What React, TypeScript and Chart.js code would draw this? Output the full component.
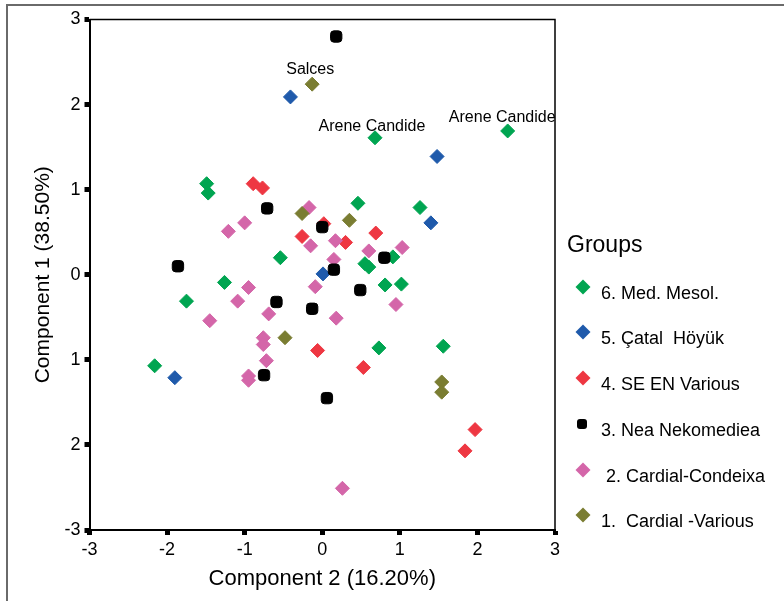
import React, { useEffect, useRef } from 'react';
import { Chart, registerables } from 'chart.js';

Chart.register(...registerables);

const FONT = '"Liberation Sans", Arial, sans-serif';

// Group names (legend order, top to bottom)
const groupNames = ['6. Med. Mesol.', '5. Çatal  Höyük', '4. SE EN Various', '3. Nea Nekomediea', ' 2. Cardial-Condeixa', '1.  Cardial -Various'];
const groupColors = ['#00a551', '#1f5aab', '#ee3742', '#000000', '#d466a9', '#7a7d32'];

// 6. Med. Mesol.
const medMesolX = [2.39, 0.68, -1.49, -1.47, 0.46, 1.26, -0.54, -1.26, -1.75, -2.16, 0.55, 0.6, 0.91, 0.81, 1.02, 0.73, 1.56];
const medMesolY = [1.69, 1.61, 1.07, 0.96, 0.84, 0.79, 0.2, -0.09, -0.31, -1.07, 0.13, 0.09, 0.21, -0.12, -0.11, -0.86, -0.84];
// 5. Çatal Höyük
const catalX = [-0.41, 1.48, 1.4, 0.01, -1.9];
const catalY = [2.09, 1.39, 0.61, 0.01, -1.21];
// 4. SE EN Various
const seenX = [-0.89, -0.77, -0.26, 0.02, 0.3, 0.69, -0.06, 0.53, 1.97, 1.84];
const seenY = [1.07, 1.02, 0.45, 0.6, 0.38, 0.49, -0.89, -1.09, -1.82, -2.07];
// 3. Nea Nekomediea
const neaX = [0.18, -0.71, 0.0, -1.86, 0.15, 0.8, 0.49, -0.59, -0.13, -0.75, 0.06];
const neaY = [2.8, 0.78, 0.56, 0.1, 0.06, 0.2, -0.18, -0.32, -0.4, -1.18, -1.45];
// 2. Cardial-Condeixa
const condeixaX = [-0.17, -1.0, -1.21, -0.15, 0.17, 0.6, 1.03, 0.15, -0.09, -0.95, -1.09, -1.45, -0.69, 0.18, -0.76, -0.76, -0.72, -0.95, -0.95, 0.26, 0.95];
const condeixaY = [0.79, 0.61, 0.51, 0.34, 0.4, 0.28, 0.32, 0.18, -0.14, -0.15, -0.31, -0.54, -0.46, -0.51, -0.74, -0.82, -1.01, -1.19, -1.24, -2.51, -0.35];
// 1. Cardial -Various
const variousX = [-0.13, -0.26, 0.35, -0.48, 1.54, 1.54];
const variousY = [2.24, 0.72, 0.64, -0.74, -1.26, -1.38];

// Point annotations
const noteTexts = ['Salces', 'Arene Candide', 'Arene Candide'];
const noteX = [-0.155, 0.64, 2.32];
const noteY = [2.41, 1.74, 1.85];

// Y tick labels for values -3..3 (as printed in the original)
const yTickValues = [-3, -2, -1, 0, 1, 2, 3];
const yTickLabels = ['-3', '2', '1', '0', '1', '2', '3'];

const xs = [medMesolX, catalX, seenX, neaX, condeixaX, variousX];
const ys = [medMesolY, catalY, seenY, neaY, condeixaY, variousY];
const drawOrder = [6, 5, 4, 1, 3, 2];

const framePlugin = {
  id: 'framePlugin',
  beforeDraw(chart: any) {
    const ctx = chart.ctx;
    ctx.save();
    ctx.fillStyle = '#fff';
    ctx.fillRect(0, 0, chart.width, chart.height);
    ctx.strokeStyle = '#6a6a6a';
    ctx.lineWidth = 2;
    ctx.beginPath();
    ctx.moveTo(7, chart.height);
    ctx.lineTo(7, 5);
    ctx.lineTo(chart.width, 5);
    ctx.stroke();
    ctx.restore();
  },
  afterDatasetsDraw(chart: any) {
    const ctx = chart.ctx;
    const a = chart.chartArea;
    ctx.save();
    ctx.strokeStyle = '#000';
    ctx.lineWidth = 1.5;
    ctx.beginPath();
    ctx.moveTo(a.left, a.top);
    ctx.lineTo(a.right, a.top);
    ctx.lineTo(a.right, a.bottom);
    ctx.stroke();
    // annotations
    ctx.fillStyle = '#000';
    ctx.font = '16px ' + FONT;
    ctx.textAlign = 'center';
    ctx.textBaseline = 'middle';
    const sx = chart.scales.x;
    const sy = chart.scales.y;
    noteTexts.forEach((t, i) => {
      ctx.fillText(t, sx.getPixelForValue(noteX[i]), sy.getPixelForValue(noteY[i]));
    });
    ctx.restore();
  },
  afterDraw(chart: any) {
    const ctx = chart.ctx;
    ctx.save();
    ctx.fillStyle = '#000';
    ctx.textAlign = 'left';
    ctx.textBaseline = 'middle';
    ctx.font = '23px ' + FONT;
    ctx.fillText('Groups', 567, 246);
    const markerY = [287, 332, 378, 424, 470, 515];
    ctx.font = '18px ' + FONT;
    groupNames.forEach((name, i) => {
      const mx = 583;
      const my = markerY[i];
      ctx.fillStyle = groupColors[i];
      ctx.beginPath();
      if (i === 3) {
        const r = 5;
        const s = 10;
        const x0 = mx - s / 2 - 1, y0 = my - s / 2;
        ctx.moveTo(x0 + r * 0.6, y0);
        ctx.arcTo(x0 + s, y0, x0 + s, y0 + s, r * 0.6);
        ctx.arcTo(x0 + s, y0 + s, x0, y0 + s, r * 0.6);
        ctx.arcTo(x0, y0 + s, x0, y0, r * 0.6);
        ctx.arcTo(x0, y0, x0 + s, y0, r * 0.6);
      } else {
        const r = 7.5;
        ctx.moveTo(mx - r, my);
        ctx.lineTo(mx, my - r);
        ctx.lineTo(mx + r, my);
        ctx.lineTo(mx, my + r);
      }
      ctx.closePath();
      ctx.fill();
      ctx.fillStyle = '#000';
      ctx.fillText(name, 601, my + 7);
    });
    ctx.restore();
  },
};

export default function App() {
  const ref = useRef<HTMLCanvasElement | null>(null);
  useEffect(() => {
    if (!ref.current) return;
    const datasets = groupNames.map((name, i) => ({
      label: name,
      data: xs[i].map((x, j) => ({ x, y: ys[i][j] })),
      backgroundColor: groupColors[i],
      borderColor: groupColors[i],
      borderWidth: 1,
      pointStyle: i === 3 ? 'rectRounded' : 'rectRot',
      pointRadius: i === 3 ? 6.6 : 7,
      pointHoverRadius: i === 3 ? 6.6 : 7,
      order: drawOrder[i],
      clip: false as any,
    }));
    const chart = new Chart(ref.current, {
      type: 'scatter',
      data: { datasets },
      plugins: [framePlugin],
      options: {
        animation: false,
        responsive: false,
        devicePixelRatio: 1,
        layout: { padding: { left: 0, top: 19.5, right: 229, bottom: 0 } },
        plugins: { legend: { display: false }, tooltip: { enabled: false } },
        scales: {
          x: {
            type: 'linear',
            min: -3,
            max: 3,
            ticks: { stepSize: 1, color: '#000', font: { size: 18, family: FONT }, padding: 4 },
            grid: { drawOnChartArea: false, tickLength: 5, tickWidth: 5, tickColor: '#000' },
            border: { display: true, color: '#000', width: 2 },
            title: { display: true, text: 'Component 2 (16.20%)', color: '#000', font: { size: 22, family: FONT }, padding: { top: 0, bottom: 9 } },
            afterFit: (s: any) => { s.height = 71; },
          },
          y: {
            type: 'linear',
            min: -3,
            max: 3,
            afterBuildTicks: (s: any) => { s.ticks = yTickValues.map((v) => ({ value: v })); },
            ticks: {
              color: '#000',
              font: { size: 18, family: FONT },
              padding: 4,
              callback: (v: any) => yTickLabels[yTickValues.indexOf(Number(v))] ?? '',
            },
            grid: { drawOnChartArea: false, tickLength: 5, tickWidth: 5, tickColor: '#000' },
            border: { display: true, color: '#000', width: 2 },
            title: { display: true, text: 'Component 1 (38.50%)', color: '#000', font: { size: 21, family: FONT }, padding: { top: 31, bottom: 0 } },
            afterFit: (s: any) => { s.width = 89.5; },
          },
        },
      },
    });
    return () => chart.destroy();
  }, []);
  return (
    <div style={{ position: 'fixed', left: 0, top: 0, width: 784, height: 601, background: '#fff' }}>
      <canvas ref={ref} width={784} height={601} style={{ display: 'block', width: 784, height: 601 }} />
    </div>
  );
}
